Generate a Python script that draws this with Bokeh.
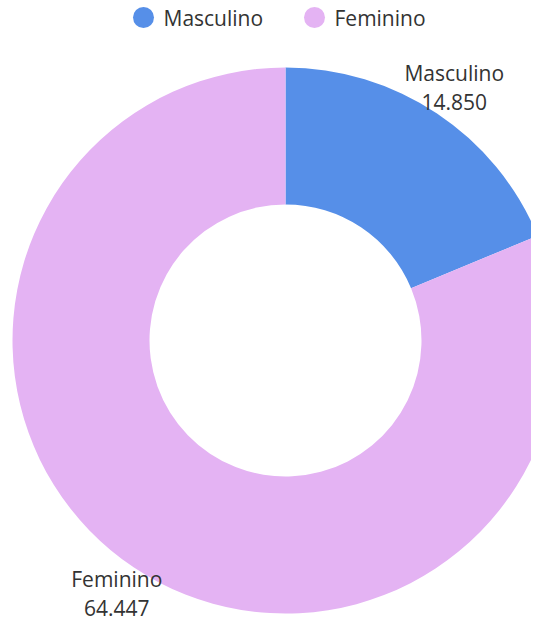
import math
from bokeh.plotting import figure
from bokeh.models import ColumnDataSource, Range1d
from bokeh.core.properties import value
from bokeh.embed import file_html
from bokeh.resources import INLINE

categories = ["Masculino", "Feminino"]
values = [14850, 64447]
value_labels = ["14.850", "64.447"]
colors = ["#568fe8", "#e4b3f3"]

W, H = 531, 623
# data coordinates = picture pixels (y up, measured from 639)
p = figure(width=W, height=H, output_backend="svg", toolbar_location=None,
           x_range=Range1d(0, W), y_range=Range1d(639 - H, 639),
           min_border=0)
p.axis.visible = False
p.grid.visible = False
p.outline_line_color = None
p.background_fill_color = "white"

shift = 10
cx, cy = 285, 639 - (350 - shift)
r_out, r_in = 273, 136

total = sum(values)
starts, ends, mids = [], [], []
acc = 0.0
for v in values:
    a0 = math.pi / 2 - 2 * math.pi * acc / total
    acc += v
    a1 = math.pi / 2 - 2 * math.pi * acc / total
    starts.append(a1)
    ends.append(a0)
    mids.append((a0 + a1) / 2)

src = ColumnDataSource(dict(x=[cx] * len(values), y=[cy] * len(values),
                            start=starts, end=ends, color=colors))
p.annular_wedge(x="x", y="y", inner_radius=r_in, outer_radius=r_out,
                start_angle="start", end_angle="end", fill_color="color",
                line_color=None, source=src)

r_lab = 304
lab = ColumnDataSource(dict(
    x=[cx + r_lab * math.cos(m) for m in mids],
    y=[cy + r_lab * math.sin(m) for m in mids],
    t=[f"{c}\n{l}" for c, l in zip(categories, value_labels)]))
p.text(x="x", y="y", text="t", source=lab, text_align="center",
       text_baseline="middle", text_font=value("Open Sans"),
       text_font_size="21px", text_color="#333333", text_line_height=1.05)

# legend
leg_y = 639 - (27 - shift)
leg_x = [143, 314]
p.scatter(x=leg_x, y=[leg_y] * 2, size=21, color=colors, line_color=None)
p.text(x=[x + 20 for x in leg_x], y=[leg_y] * 2, text=categories,
       text_baseline="middle", text_align="left",
       text_font=value("Open Sans"), text_font_size="21px",
       text_color="#333333")

open("out.html", "w").write(file_html(p, INLINE))
